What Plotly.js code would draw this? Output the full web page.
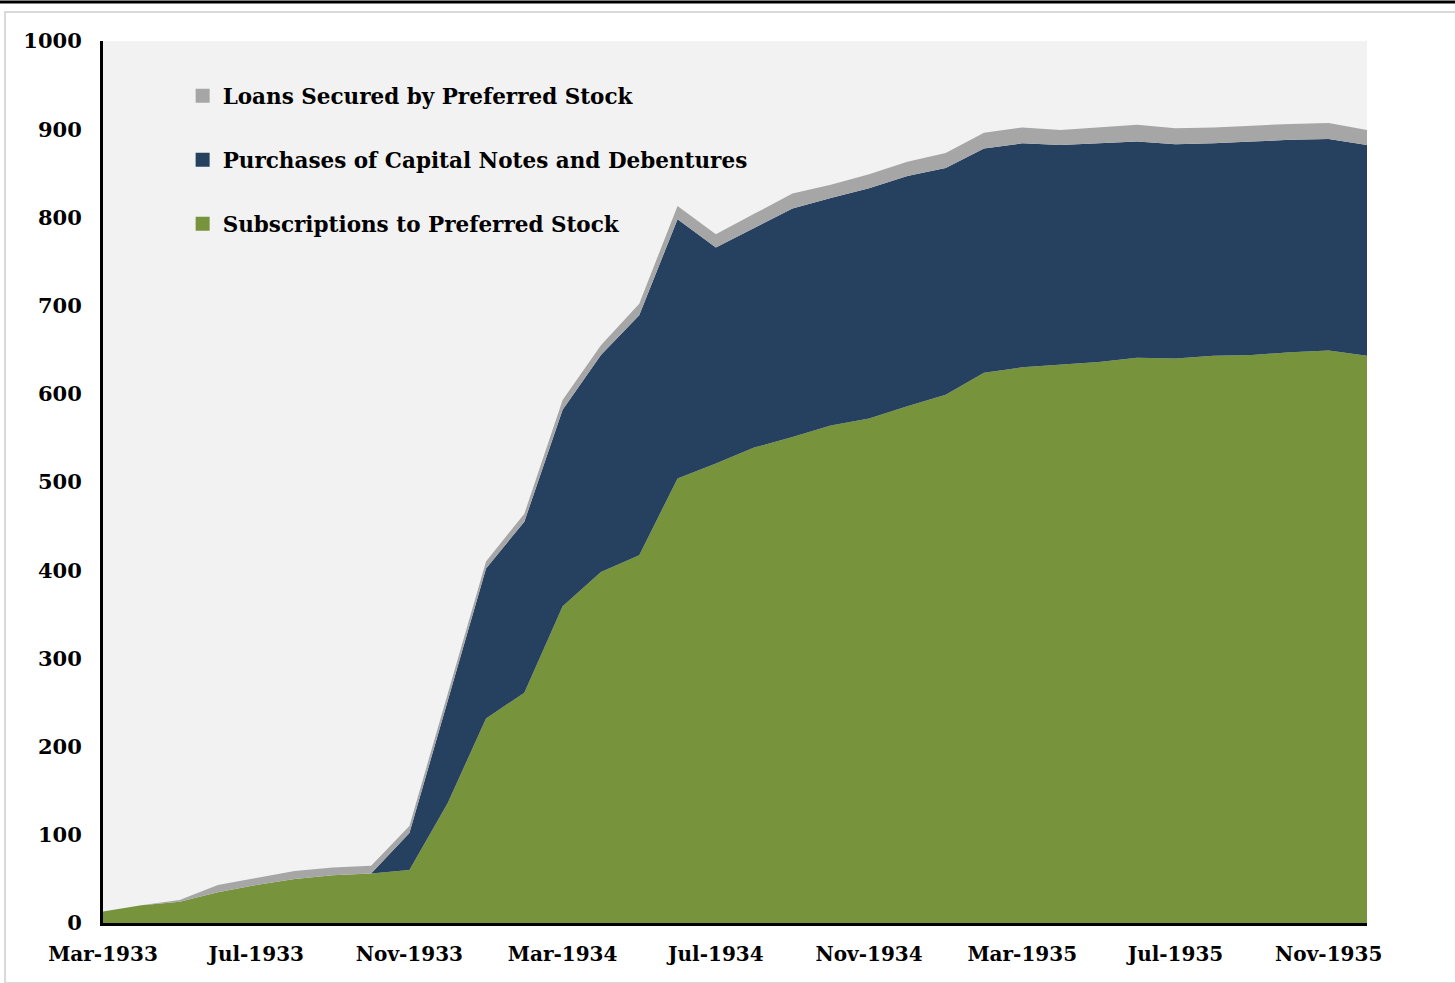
<!DOCTYPE html>
<html>
<head>
<meta charset="utf-8">
<script src="https://cdn.plot.ly/plotly-3.0.1.min.js"></script>
<style>
html,body{margin:0;padding:0;background:#fff;}
#chart{width:1455px;height:983px;}
</style>
</head>
<body>
<div id="chart"></div>
<script>
// Months (Mar-1933 .. Dec-1935)
const months = [
  "Mar-1933","Apr-1933","May-1933","Jun-1933","Jul-1933","Aug-1933","Sep-1933","Oct-1933","Nov-1933","Dec-1933",
  "Jan-1934","Feb-1934","Mar-1934","Apr-1934","May-1934","Jun-1934","Jul-1934","Aug-1934","Sep-1934","Oct-1934","Nov-1934","Dec-1934",
  "Jan-1935","Feb-1935","Mar-1935","Apr-1935","May-1935","Jun-1935","Jul-1935","Aug-1935","Sep-1935","Oct-1935","Nov-1935","Dec-1935"
];
const tickLabels = ["Mar-1933","Jul-1933","Nov-1933","Mar-1934","Jul-1934","Nov-1934","Mar-1935","Jul-1935","Nov-1935"];

// Subscriptions to Preferred Stock
const subscriptions = [
  13,20,24,35,43,50,54,56,60,136,
  232,261,359,398,417,504,521,539,551,564,572,586,
  599,624,630,633,636,641,640,643,644,647,649,643
];
// Purchases of Capital Notes and Debentures
const purchases = [
  0,0,0,0,0,0,0,0,42,116,
  170,194,223,246,272,294,245,249,259,258,261,261,
  257,254,254,249,248,245,243,241,242,241,240,239
];
// Loans Secured by Preferred Stock
const loans = [
  0,0,2,8,8,9,9,9,8,7,
  8,9,11,11,13,15,15,16,17,15,16,16,
  17,18,18,17,18,19,18,18,18,18,18,17
];

const seriesNames = ["Subscriptions to Preferred Stock","Purchases of Capital Notes and Debentures","Loans Secured by Preferred Stock"];
const seriesColors = ["#77933c","#26405f","#a6a6a6"];
const seriesValues = [subscriptions, purchases, loans];

const FONT = "DejaVu Serif";

const traces = [];
seriesValues.forEach((vals, k) => {
  traces.push({
    type: "scatter",
    mode: "lines",
    x: months,
    y: vals,
    stackgroup: "one",
    line: {width: 0, color: seriesColors[k]},
    fillcolor: seriesColors[k],
    name: seriesNames[k],
    showlegend: false,
    hoverinfo: "x+y+name"
  });
});
// Legend entries (square swatches), top to bottom: Loans, Purchases, Subscriptions
[2,1,0].forEach((k, idx) => {
  traces.push({
    type: "scatter",
    mode: "markers",
    x: [null],
    y: [null],
    name: seriesNames[k],
    legendgroup: "g" + idx,
    marker: {symbol: "square", size: 14, color: seriesColors[k]},
    showlegend: true
  });
});

const layout = {
  width: 1455,
  height: 983,
  margin: {l: 103, r: 88, t: 41, b: 60},
  paper_bgcolor: "#ffffff",
  plot_bgcolor: "#f2f2f2",
  font: {family: FONT, size: 20, color: "#000000"},
  showlegend: true,
  legend: {
    x: 0.063, y: 0.961, xanchor: "left", yanchor: "top",
    bgcolor: "rgba(0,0,0,0)",
    font: {family: FONT, size: 21.5, color: "#000000", weight: "bold"},
    traceorder: "grouped",
    tracegroupgap: 33,
    itemclick: false
  },
  xaxis: {
    type: "category",
    range: [0, months.length - 1],
    tickmode: "array",
    tickvals: tickLabels,
    ticktext: tickLabels,
    showgrid: false,
    zeroline: false,
    showline: true,
    linecolor: "#000000",
    linewidth: 3,
    ticks: "",
    ticklabelstandoff: 11,
    tickfont: {family: FONT, size: 20, color: "#000000", weight: "bold"},
    fixedrange: true
  },
  yaxis: {
    range: [0, 1000],
    dtick: 100,
    tick0: 0,
    showgrid: false,
    zeroline: false,
    showline: true,
    linecolor: "#000000",
    linewidth: 3,
    ticks: "",
    ticklabelstandoff: 14,
    tickfont: {family: FONT, size: 21, color: "#000000", weight: "bold"},
    fixedrange: true
  },
  shapes: [
    {type: "rect", xref: "paper", yref: "paper", x0: -0.0775, x1: 1.0815, y0: -0.068, y1: 1.0329,
     line: {color: "#d9d9d9", width: 2}, fillcolor: "rgba(0,0,0,0)", layer: "below"},
    {type: "line", xref: "paper", yref: "paper", x0: -0.09, x1: 1.09, y0: 1.0442, y1: 1.0442,
     line: {color: "#000000", width: 3}}
  ]
};

Plotly.newPlot("chart", traces, layout, {displayModeBar: false, staticPlot: true});
</script>
</body>
</html>
